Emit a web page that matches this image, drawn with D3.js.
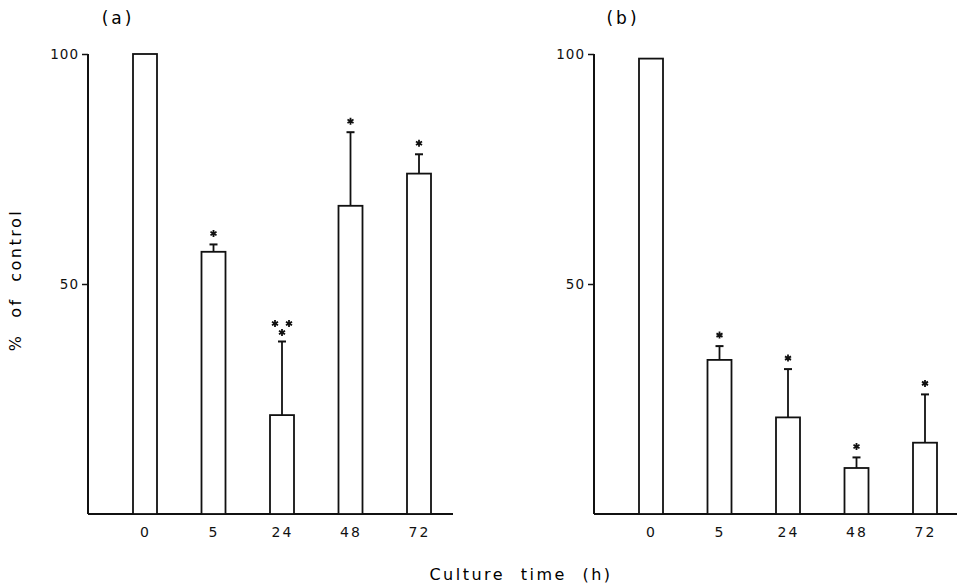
<!DOCTYPE html>
<html>
<head>
<meta charset="utf-8">
<script src="https://d3js.org/d3.v7.min.js"></script>
<style>
  body { margin: 0; background: #fff; }
  * { font-family: "DejaVu Sans", sans-serif; }
  .tick text { fill: #111; }
</style>
</head>
<body>
<script>
  // data
  var times = ["0", "5", "24", "48", "72"];
  var meanA = [100, 57, 21.5, 67, 74];
  var sdA = [0, 1.6, 16, 16, 4.2];
  var starsA = [0, 1, 3, 1, 1];
  var meanB = [99, 33.5, 21, 10, 15.5];
  var sdB = [0, 3, 10.5, 2.3, 10.5];
  var starsB = [0, 1, 1, 1, 1];
  var yTicks = [50, 100];

  var W = 957, H = 584;
  var svg = d3.select("body").append("svg")
    .attr("width", W)
    .attr("height", H);

  var y = d3.scaleLinear().domain([0, 100]).range([514, 54]);
  var barW = 24;

  function panel(left, right, label, means, sds, stars) {
    var g = svg.append("g").attr("transform", "translate(" + left + ",0)");

    var x = d3.scalePoint()
      .domain(times)
      .range([57, 331]);

    // baseline
    g.append("line")
      .attr("x1", 0).attr("x2", right - left)
      .attr("y1", y(0)).attr("y2", y(0))
      .attr("stroke", "#111").attr("stroke-width", 2);

    // y axis
    var ya = g.append("g")
      .call(d3.axisLeft(y).tickValues(yTicks).tickSize(6).tickSizeOuter(0).tickPadding(3));
    ya.select(".domain").attr("stroke", "#111").attr("stroke-width", 2)
      .attr("d", "M0," + y(0) + "V" + y(100));
    ya.selectAll(".tick line").attr("stroke", "#111").attr("stroke-width", 1.5);
    ya.selectAll(".tick text").style("font-size", "13.5px").style("letter-spacing", "1px");

    // x tick labels
    var xa = g.append("g")
      .attr("transform", "translate(0," + y(0) + ")")
      .call(d3.axisBottom(x).tickSize(0).tickPadding(13));
    xa.select(".domain").remove();
    xa.selectAll(".tick text").style("font-size", "14px").style("letter-spacing", "2px");

    var data = times.map(function (t, i) {
      return { t: t, v: means[i], sd: sds[i], n: stars[i] };
    });

    var bars = g.selectAll(".bar").data(data).enter().append("g");

    bars.append("rect")
      .attr("x", function (d) { return x(d.t) - barW / 2; })
      .attr("width", barW)
      .attr("y", function (d) { return y(d.v); })
      .attr("height", function (d) { return y(0) - y(d.v); })
      .attr("fill", "#fff")
      .attr("stroke", "#111")
      .attr("stroke-width", 1.8);

    var err = bars.filter(function (d) { return d.sd > 0; });
    err.append("line")
      .attr("x1", function (d) { return x(d.t); })
      .attr("x2", function (d) { return x(d.t); })
      .attr("y1", function (d) { return y(d.v); })
      .attr("y2", function (d) { return y(d.v + d.sd); })
      .attr("stroke", "#111").attr("stroke-width", 1.8);
    err.append("line")
      .attr("x1", function (d) { return x(d.t) - 4; })
      .attr("x2", function (d) { return x(d.t) + 4; })
      .attr("y1", function (d) { return y(d.v + d.sd); })
      .attr("y2", function (d) { return y(d.v + d.sd); })
      .attr("stroke", "#111").attr("stroke-width", 2);

    var star = d3.symbol().type(d3.symbolAsterisk).size(34);
    bars.each(function (d) {
      var b = d3.select(this);
      var top = y(d.v + d.sd);
      var pts = [];
      if (d.n === 1) pts = [[0, -11]];
      if (d.n === 3) pts = [[0, -9], [-7, -18], [7, -18]];
      pts.forEach(function (p) {
        b.append("path")
          .attr("d", star)
          .attr("transform", "translate(" + (x(d.t) + p[0]) + "," + (top + p[1]) + ")")
          .attr("fill", "none")
          .attr("stroke", "#111")
          .attr("stroke-width", 1.8);
      });
    });

    svg.append("text")
      .attr("x", left + label.dx)
      .attr("y", 24)
      .attr("text-anchor", "middle")
      .style("font-size", "17px")
      .style("letter-spacing", "3px")
      .text(label.text);
  }

  panel(88, 453, { text: "(a)", dx: 30 }, meanA, sdA, starsA);
  panel(594, 957, { text: "(b)", dx: 29 }, meanB, sdB, starsB);

  // axis titles
  svg.append("text")
    .attr("transform", "translate(21,280) rotate(-90)")
    .attr("text-anchor", "middle")
    .style("font-size", "16px")
    .style("letter-spacing", "2.5px")
    .style("word-spacing", "8px")
    .text("% of control");

  svg.append("text")
    .attr("x", 521)
    .attr("y", 580)
    .attr("text-anchor", "middle")
    .style("font-size", "16px")
    .style("letter-spacing", "2.5px")
    .style("word-spacing", "8px")
    .text("Culture time (h)");
</script>
</body>
</html>
